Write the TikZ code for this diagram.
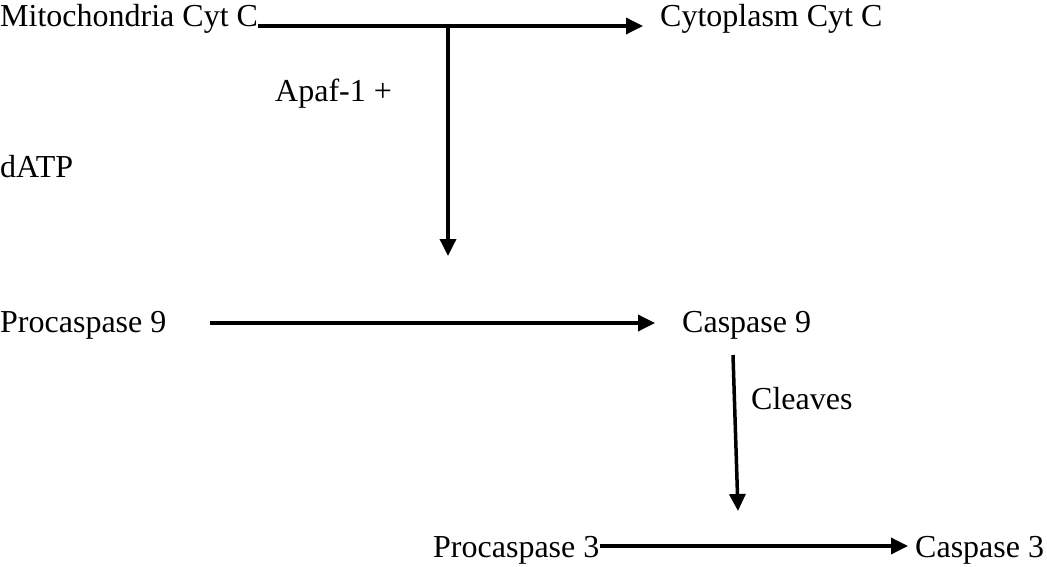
\documentclass[tikz,border=0pt]{standalone}
\usepackage{fontspec}
\setmainfont{Liberation Serif}
\usetikzlibrary{arrows.meta}
\begin{document}
\begin{tikzpicture}[x=1pt,y=-1pt,
  lbl/.style={anchor=base west,inner sep=0pt,font=\fontsize{32}{38}\selectfont},
  conn/.style={line width=3.5pt},
  arr/.style={conn,-{Triangle[length=17pt,width=16pt]}}]
\useasboundingbox (0,0) rectangle (1047,567);
\node[lbl] (mito) at (0,27) {Mitochondria Cyt C};
\node[lbl] (cyto) at (660,27) {Cytoplasm Cyt C};
\node[lbl] (apaf) at (275,102) {Apaf-1 +};
\node[lbl] (datp) at (0,178) {dATP};
\node[lbl] (pro9) at (0,332) {Procaspase 9};
\node[lbl] (cas9) at (682,332) {Caspase 9};
\node[lbl] (clv) at (751,409) {Cleaves};
\node[lbl] (pro3) at (433,557) {Procaspase 3};
\node[lbl] (cas3) at (915,557) {Caspase 3};
\coordinate (j1) at (448,26);
\coordinate (t1) at (448,256);
\coordinate (s9) at (210,323);
\coordinate (c9top) at (733,355);
\coordinate (t3) at (738,511);
\coordinate (p3y) at (0,546);
\draw[arr] (mito.east |- j1) -- ([xshift=-17pt]cyto.west |- j1);
\draw[arr] (j1) -- (t1);
\draw[arr] (s9) -- ([xshift=-27pt]cas9.west |- s9);
\draw[arr] (c9top) -- (t3);
\draw[arr] (pro3.east |- p3y) -- ([xshift=-7pt]cas3.west |- p3y);
\end{tikzpicture}
\end{document}
